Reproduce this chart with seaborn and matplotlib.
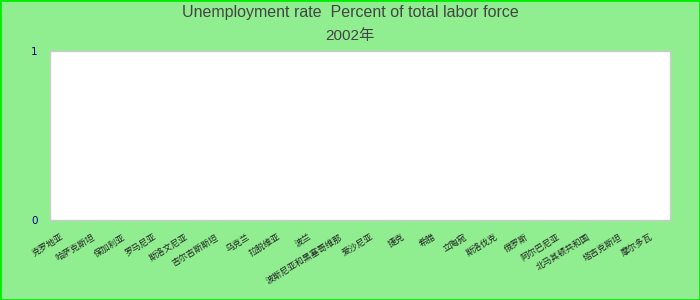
import numpy as np
import pandas as pd
import matplotlib
matplotlib.use("Agg")
import matplotlib.pyplot as plt
import matplotlib.transforms as mtransforms
import seaborn as sns
from matplotlib.patches import Rectangle

# ---- data ----
countries = ["克罗地亚", "哈萨克斯坦", "保加利亚", "罗马尼亚", "斯洛文尼亚",
             "吉尔吉斯斯坦", "乌克兰", "拉脱维亚", "波兰", "波斯尼亚和黑塞哥维那",
             "爱沙尼亚", "捷克", "希腊", "立陶宛", "斯洛伐克",
             "俄罗斯", "阿尔巴尼亚", "北马其顿共和国", "塔吉克斯坦", "摩尔多瓦"]
unemployment = [None, None, None, None, None,
                None, None, None, None, None,
                None, None, None, None, None,
                None, None, None, None, None]
y_ticks = [0, 1]
title = "Unemployment rate  Percent of total labor force"
subtitle = "2002年"

df = pd.DataFrame({"country": countries,
                   "value": pd.to_numeric(pd.Series(unemployment, dtype="float"))})

sns.set_theme(style="white")
plt.rcParams["font.family"] = ["Liberation Sans", "Noto Sans CJK SC", "DejaVu Sans"]

fig = plt.figure(figsize=(7, 3), dpi=100, facecolor="#90EE90")
ax = fig.add_axes([50/700, 80/300, 620/700, 169/300])
ax.set_facecolor("white")

sns.barplot(data=df, x="country", y="value", ax=ax, color="#5470c6", errorbar=None)

ax.set_ylim(0, 1)
ax.set_yticks(y_ticks)
ax.set_yticklabels([str(v) for v in y_ticks], color="#00008B", fontsize=7.5,
                   family=["DejaVu Sans"])
ax.tick_params(axis="y", length=0, pad=9)
ax.tick_params(axis="x", length=0, pad=9)
ax.set_xlabel("")
ax.set_ylabel("")
shift = mtransforms.ScaledTranslation(-5/100, 0, fig.dpi_scale_trans)
for lbl in ax.get_xticklabels():
    lbl.set_rotation(31)
    lbl.set_ha("right")
    lbl.set_rotation_mode("anchor")
    lbl.set_fontsize(6.3)
    lbl.set_color("#222222")
    lbl.set_family(["Noto Sans CJK SC", "DejaVu Sans"])
    lbl.set_transform(lbl.get_transform() + shift)

for s in ax.spines.values():
    s.set_visible(True)
    s.set_color("#cccccc")
    s.set_linewidth(1)

fig.text(0.5, 1 - 13/300, title, ha="center", va="center", fontsize=11.5, color="#444444")
fig.text(0.5, 1 - 36/300, subtitle, ha="center", va="center", fontsize=11, color="#444444",
         family=["Liberation Sans", "Noto Sans CJK SC"])

fig.patches.append(Rectangle((0, 0), 1, 1, transform=fig.transFigure, fill=False,
                             edgecolor="#00EE00", linewidth=2))

fig.savefig("out.png", dpi=100, facecolor=fig.get_facecolor())
